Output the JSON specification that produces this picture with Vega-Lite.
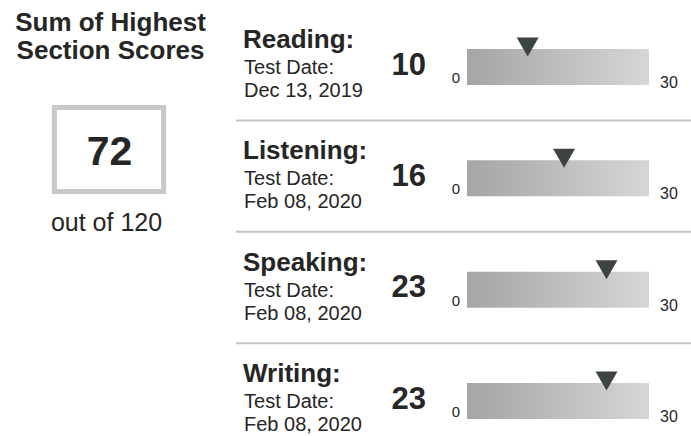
{
  "$schema": "https://vega.github.io/schema/vega-lite/v6.json",
  "background": "white",
  "padding": 0,
  "spacing": 0,
  "config": {
    "view": {"stroke": null},
    "text": {"font": "Liberation Sans", "color": "#262626", "baseline": "alphabetic"}
  },
  "datasets": {
    "total": [{"total": 72, "outOf": "out of 120"}],
    "sections": [
      {"section": "Reading:", "date": "Dec 13, 2019", "score": 10},
      {"section": "Listening:", "date": "Feb 08, 2020", "score": 16},
      {"section": "Speaking:", "date": "Feb 08, 2020", "score": 23},
      {"section": "Writing:", "date": "Feb 08, 2020", "score": 23}
    ]
  },
  "hconcat": [
    {
      "width": 235,
      "height": 299,
      "data": {"name": "total"},
      "layer": [
        {"mark": {"type": "text", "text": "Sum of Highest", "fontSize": 26, "fontWeight": "bold", "dy": -118.5, "dx": -7}, "encoding": {}},
        {"mark": {"type": "text", "text": "Section Scores", "fontSize": 26, "fontWeight": "bold", "dy": -90.5, "dx": -7}, "encoding": {}},
        {"mark": {"type": "point", "shape": "M-1.3,-1L1.3,-1L1.3,1L-1.3,1Z", "size": 7056, "filled": false, "stroke": "#c8c8c8", "strokeWidth": 5, "opacity": 1, "xOffset": -8.5}, "encoding": {}},
        {"mark": {"type": "text", "fontSize": 41, "fontWeight": "bold", "dy": 15, "dx": -8}, "encoding": {"text": {"field": "total"}}},
        {"mark": {"type": "text", "fontSize": 25, "dy": 81.5, "dx": -11}, "encoding": {"text": {"field": "outOf"}}}
      ]
    },
    {
      "width": 456,
      "height": 436,
      "data": {"name": "sections"},
      "encoding": {
        "y": {"field": "section", "type": "nominal", "sort": null, "scale": {"type": "point", "padding": 0.458, "align": 0.657}, "axis": null}
      },
      "layer": [
        {
          "transform": [{"filter": "datum.section !== 'Writing:'"}],
          "mark": {"type": "rule", "yOffset": 53.5, "color": "#c4c4c4", "strokeWidth": 2},
          "encoding": {}
        },
        {
          "mark": {"type": "bar", "height": 36, "color": {"gradient": "linear", "stops": [{"offset": 0, "color": "#a5a5a5"}, {"offset": 1, "color": "#d6d6d6"}]}},
          "encoding": {
            "x": {"datum": 0, "type": "quantitative", "scale": {"domain": [-38.08, 37.09], "nice": false, "zero": false}, "axis": null},
            "x2": {"datum": 30}
          }
        },
        {
          "mark": {"type": "point", "shape": "triangle-down", "size": 484, "filled": true, "color": "#3c4342", "opacity": 1, "yOffset": -20},
          "encoding": {"x": {"field": "score", "type": "quantitative"}}
        },
        {
          "mark": {"type": "text", "align": "left", "fontSize": 26, "fontWeight": "bold", "dx": -224, "dy": -19},
          "encoding": {"x": {"datum": 0, "type": "quantitative"}, "text": {"field": "section"}}
        },
        {
          "mark": {"type": "text", "align": "left", "fontSize": 20, "dx": -223, "dy": 7, "text": "Test Date:"},
          "encoding": {"x": {"datum": 0, "type": "quantitative"}}
        },
        {
          "mark": {"type": "text", "align": "left", "fontSize": 20, "dx": -223, "dy": 30},
          "encoding": {"x": {"datum": 0, "type": "quantitative"}, "text": {"field": "date"}}
        },
        {
          "mark": {"type": "text", "align": "right", "fontSize": 31, "fontWeight": "bold", "dx": -41, "dy": 7.5},
          "encoding": {"x": {"datum": 0, "type": "quantitative"}, "text": {"field": "score"}}
        },
        {
          "mark": {"type": "text", "align": "right", "fontSize": 15, "dx": -7, "dy": 16, "text": "0"},
          "encoding": {"x": {"datum": 0, "type": "quantitative"}}
        },
        {
          "mark": {"type": "text", "align": "left", "fontSize": 16, "dx": 11, "dy": 21, "text": "30"},
          "encoding": {"x": {"datum": 30, "type": "quantitative"}}
        }
      ]
    }
  ]
}
